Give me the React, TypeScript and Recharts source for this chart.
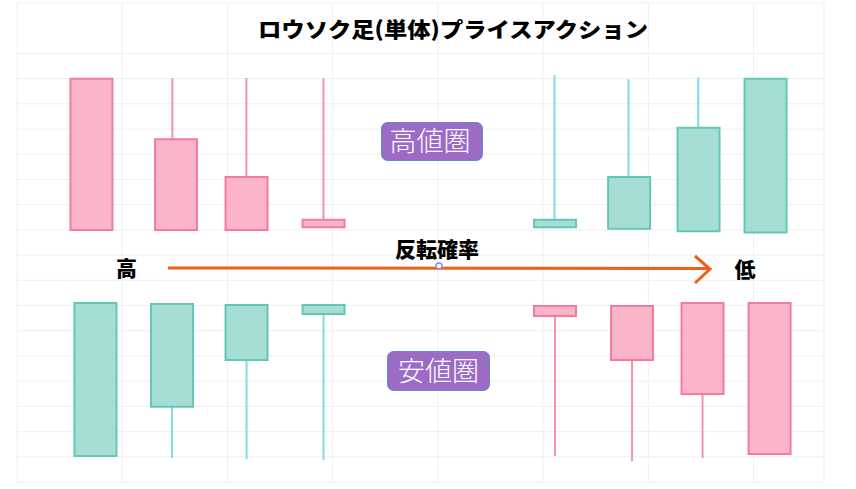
import React from 'react';
import { ComposedChart, Bar, XAxis, YAxis, CartesianGrid, Cell } from 'recharts';

// grid ticks (x in grid columns, y in grid rows)
const gridCols = [0, 1, 2, 3, 4, 5, 6, 7];
const gridRows = [0, 1, 2, 3, 4, 5, 6, 7, 8, 9, 10, 11, 12, 13, 14, 15, 16, 17, 18, 19];

// 高値圏 (upper row) candles
const topX = [0.703, 1.507, 2.177, 2.909, 5.109, 5.813, 6.473, 7.11];
const topWickX = [0.703, 1.473, 2.177, 2.909, 5.105, 5.808, 6.471, 7.11];
const topOpen = [16.0, 13.6, 12.1, 10.4, 10.1, 10.05, 9.95, 9.9];
const topClose = [10.0, 10.0, 10.0, 10.1, 10.4, 12.1, 14.05, 16.0];
const topHigh = [16.0, 16.02, 16.02, 16.02, 16.14, 15.98, 16.06, 16.0];
const topLow = [10.0, 10.0, 10.0, 10.1, 10.1, 10.05, 9.95, 9.9];

// 安値圏 (lower row) candles
const bottomX = [0.741, 1.469, 2.177, 2.909, 5.109, 5.841, 6.511, 7.148];
const bottomOpen = [1.03, 2.98, 4.84, 6.66, 6.98, 6.98, 7.1, 7.1];
const bottomClose = [7.1, 7.06, 7.02, 7.02, 6.58, 4.84, 3.49, 1.11];
const bottomHigh = [7.1, 7.06, 7.02, 7.02, 6.98, 6.98, 7.1, 7.1];
const bottomLow = [1.03, 0.95, 0.91, 0.87, 1.03, 0.83, 0.95, 1.11];

// texts
const title = 'ロウソク足(単体)プライスアクション';
const topZoneLabel = '高値圏';
const bottomZoneLabel = '安値圏';
const arrowLabel = '反転確率';
const arrowStart = '高';
const arrowEnd = '低';

const rows = topX.map((_, i) => ({
  tx: topX[i],
  twx: topWickX[i],
  tBody: [Math.min(topOpen[i], topClose[i]), Math.max(topOpen[i], topClose[i])],
  tWick: [topLow[i], topHigh[i]],
  tUp: topClose[i] > topOpen[i],
  bx: bottomX[i],
  bwx: bottomX[i],
  bBody: [Math.min(bottomOpen[i], bottomClose[i]), Math.max(bottomOpen[i], bottomClose[i])],
  bWick: [bottomLow[i], bottomHigh[i]],
  bUp: bottomClose[i] > bottomOpen[i],
}));

const UP_FILL = '#a6ded6';
const UP_STROKE = '#63c7b6';
const UP_WICK = '#7fdbe6';
const DOWN_FILL = '#fcb4c8';
const DOWN_STROKE = '#f27b9f';
const DOWN_WICK = '#f592ad';

const FONT = '"Noto Sans CJK JP", "Noto Sans", sans-serif';
const X_DOMAIN: [number, number] = [0, 7.67];

export default function App() {
  return (
    <div style={{ position: 'absolute', left: 0, top: 0, width: 856, height: 489, background: '#ffffff', fontFamily: FONT }}>
      <ComposedChart width={856} height={489} data={rows} margin={{ top: 3, right: 32, bottom: 7, left: 17 }}>
        <CartesianGrid xAxisId="tb" stroke="#efefef" strokeWidth={1} />
        <XAxis xAxisId="tb" dataKey="tx" type="number" domain={X_DOMAIN} ticks={gridCols} hide allowDataOverflow />
        <XAxis xAxisId="tw" dataKey="twx" type="number" domain={X_DOMAIN} hide allowDataOverflow />
        <XAxis xAxisId="bb" dataKey="bx" type="number" domain={X_DOMAIN} hide allowDataOverflow />
        <XAxis xAxisId="bw" dataKey="bwx" type="number" domain={X_DOMAIN} hide allowDataOverflow />
        <YAxis type="number" domain={[0, 19]} ticks={gridRows} hide allowDataOverflow />
        <Bar xAxisId="tw" dataKey="tWick" barSize={2} isAnimationActive={false}>
          {rows.map((r, i) => (
            <Cell key={`tw${i}`} fill={r.tUp ? UP_WICK : DOWN_WICK} />
          ))}
        </Bar>
        <Bar xAxisId="bw" dataKey="bWick" barSize={2} isAnimationActive={false}>
          {rows.map((r, i) => (
            <Cell key={`bw${i}`} fill={r.bUp ? UP_WICK : DOWN_WICK} />
          ))}
        </Bar>
        <Bar xAxisId="tb" dataKey="tBody" barSize={42} strokeWidth={2} isAnimationActive={false}>
          {rows.map((r, i) => (
            <Cell key={`tb${i}`} fill={r.tUp ? UP_FILL : DOWN_FILL} stroke={r.tUp ? UP_STROKE : DOWN_STROKE} />
          ))}
        </Bar>
        <Bar xAxisId="bb" dataKey="bBody" barSize={42} strokeWidth={2} isAnimationActive={false}>
          {rows.map((r, i) => (
            <Cell key={`bb${i}`} fill={r.bUp ? UP_FILL : DOWN_FILL} stroke={r.bUp ? UP_STROKE : DOWN_STROKE} />
          ))}
        </Bar>
      </ComposedChart>
      <svg width={856} height={489} style={{ position: 'absolute', left: 0, top: 0, pointerEvents: 'none' }}>
        <text x={453} y={37} textAnchor="middle" fontSize={21} fontWeight={900} fill="#000" fontFamily={FONT}
          textLength={390} lengthAdjust="spacingAndGlyphs">{title}</text>

        <rect x={381.5} y={122.5} width={101} height={38} rx={6} fill="#9b6bc6" stroke="#5b8cc8" strokeWidth={1} />
        <text x={430} y={151} textAnchor="middle" fontSize={27} fontWeight={300} fill="#ffffff" fontFamily={FONT}>{topZoneLabel}</text>

        <rect x={387.5} y={351.5} width={102} height={39} rx={6} fill="#9b6bc6" stroke="#5b8cc8" strokeWidth={1} />
        <text x={438.5} y={381} textAnchor="middle" fontSize={27} fontWeight={300} fill="#ffffff" fontFamily={FONT}>{bottomZoneLabel}</text>

        <text x={437} y={257} textAnchor="middle" fontSize={21} fontWeight={900} fill="#000" fontFamily={FONT}>{arrowLabel}</text>
        <text x={126.5} y={276} textAnchor="middle" fontSize={21} fontWeight={900} fill="#000" fontFamily={FONT}>{arrowStart}</text>
        <text x={745} y={277} textAnchor="middle" fontSize={21} fontWeight={900} fill="#000" fontFamily={FONT}>{arrowEnd}</text>

        <line x1={168} y1={268} x2={709} y2={268.5} stroke="#ef5f17" strokeWidth={3} />
        <polyline points="695,256 710,269 695,283" fill="none" stroke="#ef5f17" strokeWidth={3} />
        <circle cx={439} cy={266} r={3} fill="#ffffff" stroke="#7d8ee0" strokeWidth={1.5} />
      </svg>
    </div>
  );
}
